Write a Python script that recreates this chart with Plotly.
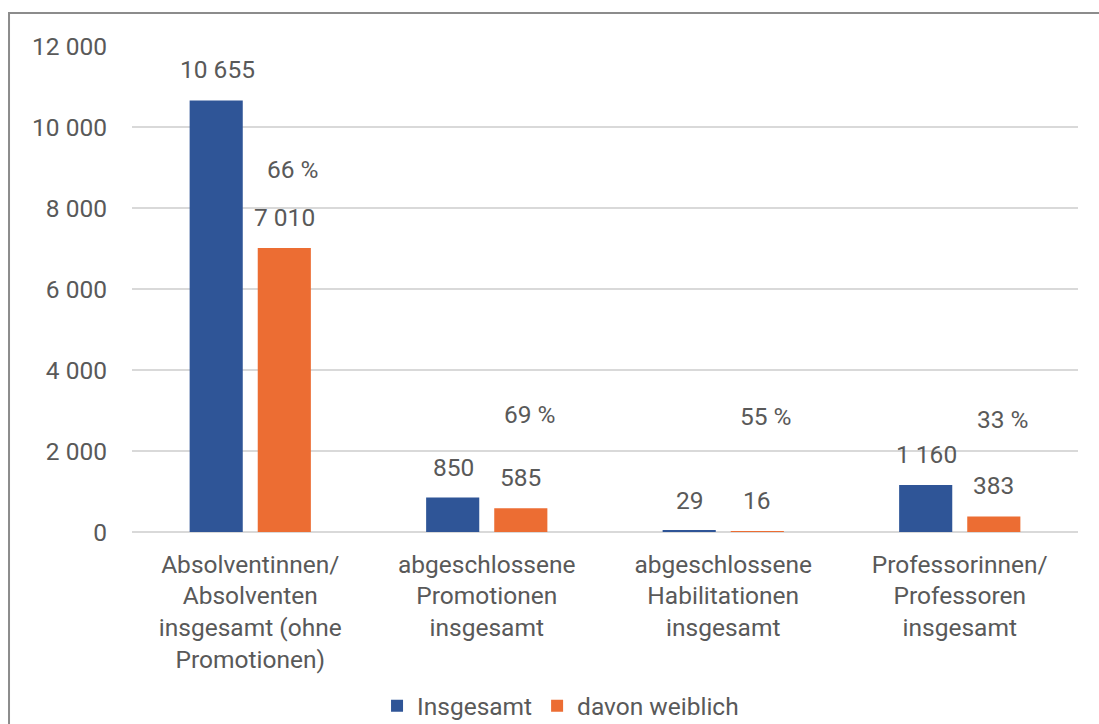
import plotly.graph_objects as go

# Kategorien und Werte
categories = [
    "Absolventinnen/<br>Absolventen<br>insgesamt (ohne<br>Promotionen)",
    "abgeschlossene<br>Promotionen<br>insgesamt",
    "abgeschlossene<br>Habilitationen<br>insgesamt",
    "Professorinnen/<br>Professoren<br>insgesamt",
]
insgesamt = [10655, 850, 29, 1160]
weiblich = [7010, 585, 16, 383]
frauenanteil = ["66 %", "69 %", "55 %", "33 %"]
y_ticks = [0, 2000, 4000, 6000, 8000, 10000, 12000]

# Höhe der Prozentbeschriftungen (Datenkoordinaten)
pct_label_y = [8950, 2900, 2850, 2780]

BLUE = "#2F5597"
ORANGE = "#EC6D33"
TXT = "#595959"
FONT = "Roboto"
FS = 24.5


def fmt(v):
    return f"{v:,}".replace(",", " ")


fig = go.Figure()
fig.add_trace(go.Bar(name="Insgesamt", x=categories, y=insgesamt,
                     marker=dict(color=BLUE, line=dict(width=0))))
fig.add_trace(go.Bar(name="davon weiblich", x=categories, y=weiblich,
                     marker=dict(color=ORANGE, line=dict(width=0))))

annotations = []
for i, cat in enumerate(categories):
    annotations.append(dict(x=i, y=insgesamt[i], xref="x", yref="y", text=fmt(insgesamt[i]),
                            showarrow=False, yanchor="bottom", xshift=-33, yshift=14,
                            font=dict(family=FONT, size=FS, color=TXT)))
    annotations.append(dict(x=i, y=weiblich[i], xref="x", yref="y", text=fmt(weiblich[i]),
                            showarrow=False, yanchor="bottom", xshift=34, yshift=14,
                            font=dict(family=FONT, size=FS, color=TXT)))
    annotations.append(dict(x=i, y=pct_label_y[i], xref="x", yref="y", text=frauenanteil[i],
                            showarrow=False, yanchor="middle", xshift=43,
                            font=dict(family=FONT, size=FS, color=TXT)))

fig.update_layout(
    width=1099, height=724,
    margin=dict(l=132, r=21, t=46, b=192, autoexpand=False),
    paper_bgcolor="white", plot_bgcolor="white",
    barmode="group", bargap=0.424, bargroupgap=0.22,
    font=dict(family=FONT, size=FS, color=TXT),
    xaxis=dict(type="category", range=[-0.5, 3.5], showgrid=False, showline=False,
               ticks="", ticklabelstandoff=15, tickfont=dict(size=FS, color=TXT),
               automargin=False),
    yaxis=dict(range=[0, 12000], tickvals=y_ticks, ticktext=[fmt(v) for v in y_ticks],
               showgrid=True, gridcolor="#D9D9D9", gridwidth=2, zeroline=True,
               zerolinecolor="#D9D9D9", zerolinewidth=2, showline=False, ticks="",
               ticklabelstandoff=24, tickfont=dict(size=FS, color=TXT), automargin=False),
    legend=dict(orientation="h", x=0.453, xanchor="center", yref="container",
                y=0.025, yanchor="middle", font=dict(size=FS, color=TXT),
                itemwidth=30, traceorder="normal"),
    annotations=annotations,
    shapes=[dict(type="rect", xref="paper", yref="paper", x0=-0.130, x1=1.1,
                 y0=-0.5, y1=1.068, line=dict(color="#8C8C8C", width=2), layer="below")],
)

fig.write_html("out.html")
